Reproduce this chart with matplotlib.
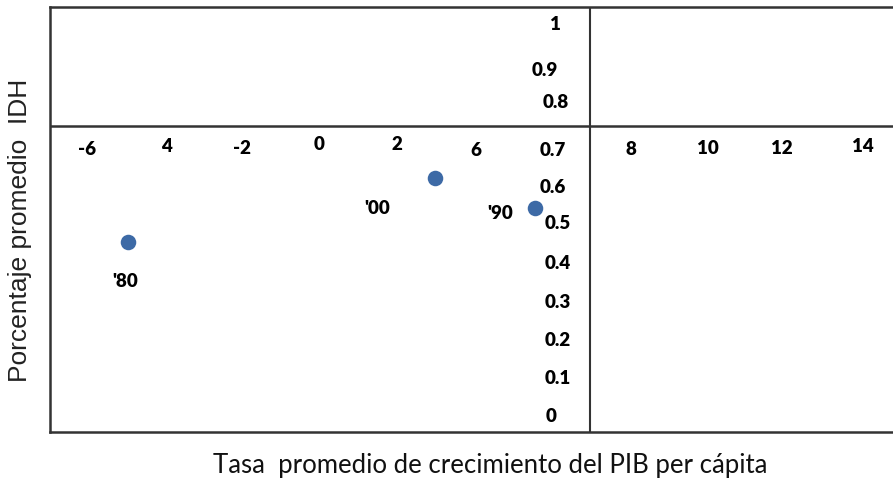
import numpy as np
import matplotlib
matplotlib.use('Agg')
import matplotlib.pyplot as plt

# data: average GDP per capita growth vs average HDI, by decade
decades = ["'80", "'00", "'90"]
growth = [-4.92, 2.99, 5.57]
hdi = [0.454, 0.621, 0.545]

# axis tick values and the labels printed next to them (as in the original)
x_ticks = [-6, -4, -2, 0, 2, 4, 8, 10, 12, 14]
x_tick_labels = ['-6', '4', '-2', '0', '2', '6', '8', '10', '12', '14']
y_ticks = [0, 0.1, 0.2, 0.3, 0.4, 0.5, 0.6, 0.7, 0.8, 0.9, 1.0]
y_tick_labels = ['0', '0.1', '0.2', '0.3', '0.4', '0.5', '0.6', '0.7', '0.8', '0.9', '1']

x_cross = 7.0     # vertical axis crosses here
y_cross = 0.758   # horizontal axis crosses here

# label nudges in pixels (layout only)
x_lab_dx = [0, 3, 0, 0, 0, 2, 2, 1, -2, 1]
x_lab_dy = [-23, -20, -22, -18, -18, -24, -23, -22, -22, -20]
y_lab_dx = [-39, -33, -33, -33, -33, -33, -38, -38, -35, -46, -35]
y_lab_dy = [-1, -1, -1, -1, -1, 1, -1, -2, 8, 1, 9]
pt_lab_dx = [-3, -58, -35]
pt_lab_dy = [-39, -30, -6]

W, H = 893, 484
fig = plt.figure(figsize=(W / 100, H / 100), dpi=100)
ax = fig.add_axes([50 / W, (H - 432) / H, (905 - 50) / W, (432 - 6.5) / H])
ax.set_xlim(-6.942, 15.12)
ax.set_ylim(-0.0427, 1.0712)
ax.set_xticks([])
ax.set_yticks([])
line_col = '#333333'
for s in ax.spines.values():
    s.set_color(line_col)
    s.set_linewidth(1.8)

ax.axvline(x_cross, color=line_col, lw=1.5)
ax.axhline(y_cross, color=line_col, lw=1.8)

tick_font = dict(family=['Lato', 'DejaVu Sans'], fontsize=13.5, fontweight='heavy', color='black')
for v, lab, dx, dy in zip(x_ticks, x_tick_labels, x_lab_dx, x_lab_dy):
    ax.annotate(lab, (v, y_cross), xytext=(dx, dy), textcoords='offset pixels',
                ha='center', va='center', **tick_font)
for v, lab, dx, dy in zip(y_ticks, y_tick_labels, y_lab_dx, y_lab_dy):
    ax.annotate(lab, (x_cross, v), xytext=(dx, dy), textcoords='offset pixels',
                ha='center', va='center', **tick_font)

ax.scatter(growth, hdi, s=125, color='#3d6aa6', zorder=5, linewidths=0)
for x, y, lab, dx, dy in zip(growth, hdi, decades, pt_lab_dx, pt_lab_dy):
    ax.annotate(lab, (x, y), xytext=(dx, dy), textcoords='offset pixels',
                ha='center', va='center', **tick_font)

fig.text(490 / W, 1 - 465 / H, 'Tasa  promedio de crecimiento del PIB per cápita',
         ha='center', va='center', fontsize=18.5, family=['Lato', 'DejaVu Sans'], color='#111111')
fig.text(20 / W, 1 - 230 / H, 'Porcentaje promedio  IDH', rotation=90,
         ha='center', va='center', fontsize=19, family=['Liberation Sans', 'DejaVu Sans'], color='#222222')

plt.savefig('out.png', dpi=100)
